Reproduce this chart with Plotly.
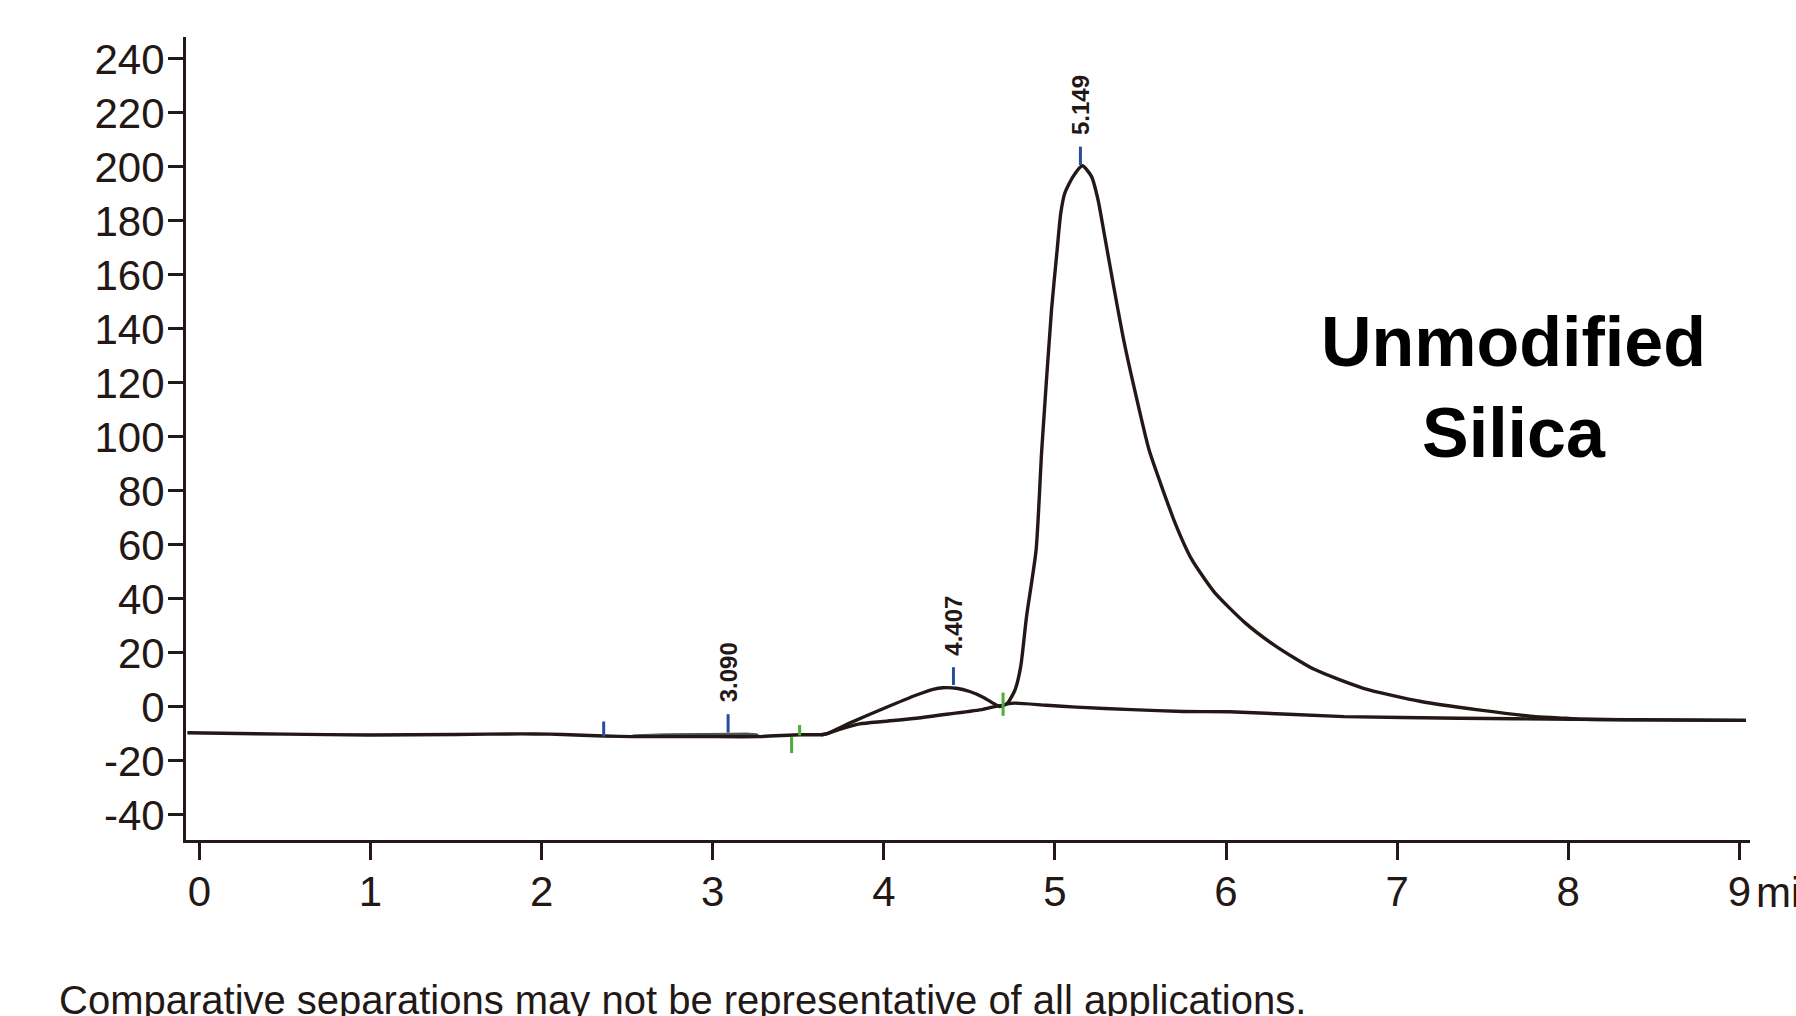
import plotly.graph_objects as go

# ---------------- data ----------------
# detector signal (time in min, response)
SIGNAL_T = [-0.07, 0.50, 0.995, 1.50, 1.884, 2.047, 2.20, 2.363, 2.532, 2.924, 3.275,
            3.508, 3.635, 3.664, 3.80, 3.995, 4.191, 4.288, 4.346, 4.424, 4.502, 4.58,
            4.638, 4.677, 4.697, 4.723, 4.767, 4.80, 4.834, 4.89, 4.923, 4.98, 5.013,
            5.034, 5.058, 5.106, 5.16, 5.214, 5.252, 5.291, 5.34, 5.398, 5.457, 5.55,
            5.617, 5.706, 5.796, 5.93, 6.11, 6.288, 6.512, 6.803, 7.139, 7.474, 7.81,
            7.99, 8.10, 8.5, 9.038]
SIGNAL_Y = [-9.6, -10.1, -10.4, -10.2, -10.0, -10.1, -10.4, -10.8, -11.0, -11.0, -11.0,
            -10.3, -10.3, -10.0, -6.0, -0.7, 4.4, 6.5, 7.1, 6.9, 5.7, 3.6,
            1.4, 0.1, 0.5, 1.4, 6.3, 14.9, 33.4, 58.1, 95.2, 147.0, 169.3,
            182.8, 190.3, 196.4, 200.4, 196.4, 187.8, 174.2, 156.9, 137.1, 119.9, 95.2,
            82.8, 67.5, 55.0, 42.6, 31.2, 22.6, 14.0, 6.9, 2.0, -1.1, -3.6,
            -4.2, -4.6, -4.8, -5.0]

# integration baselines
BASE1_T = [3.635, 3.664, 3.742, 3.859, 3.995, 4.191, 4.385, 4.58, 4.668, 4.697]
BASE1_Y = [-10.3, -10.0, -8.3, -6.3, -5.4, -4.2, -2.6, -0.9, 0.4, 0.5]
BASE2_T = [4.697, 4.723, 4.767, 4.95, 5.125, 5.45, 5.751, 6.02, 6.691, 7.362, 8.033, 8.5, 9.038]
BASE2_Y = [0.5, 1.1, 1.4, 0.6, -0.1, -1.0, -1.7, -1.8, -3.6, -4.2, -4.6, -4.8, -5.0]

# small shaded peak near 3.09 min
SHADE_T = [2.532, 2.70, 2.90, 3.09, 3.20, 3.26, 3.279, 3.279, 2.532]
SHADE_Y = [-10.4, -10.0, -9.9, -9.7, -9.7, -10.0, -11.0, -11.0, -11.0]

# peak labels (retention times)
PEAK_RT = [3.090, 4.407, 5.149]
PEAK_LABELS = ["3.090", "4.407", "5.149"]

# integration event marks
BLUE_MARK_T = [2.363, 3.090, 4.407, 5.149]
BLUE_MARK_LO = [-11.0, -9.5, 8.1, 200.7]
BLUE_MARK_HI = [-5.4, -2.7, 14.7, 207.5]
GREEN_MARK_T = [3.461, 3.508, 4.697]
GREEN_MARK_LO = [-17.1, -10.6, -3.3]
GREEN_MARK_HI = [-11.2, -6.7, 5.3]

X_TICKS = [0, 1, 2, 3, 4, 5, 6, 7, 8, 9]
Y_TICKS = [-40, -20, 0, 20, 40, 60, 80, 100, 120, 140, 160, 180, 200, 220, 240]
Y_TICK_TEXT = ["-40", "-20", "0", "20", "40", "60", "80", "100", "120", "140",
               "160", "180", "200", "220", "240"]

TITLE_LINES = ["Unmodified", "Silica"]
FOOTNOTE = "Comparative separations may not be representative of all applications."
X_UNIT = "min"

# ---------------- styling ----------------
INK = "#231815"
BLUE = "#2b4c9c"
GREEN = "#4bae39"
FONT = "Liberation Sans, Arial, Helvetica, sans-serif"
LW = 3.4


def segments(xs, lo, hi):
    X, Y = [], []
    for x, a, b in zip(xs, lo, hi):
        X += [x, x, None]
        Y += [a, b, None]
    return X, Y


fig = go.Figure()

fig.add_trace(go.Scatter(x=SHADE_T, y=SHADE_Y, mode="lines", fill="toself",
                         fillcolor="#4d4d4d", line=dict(color="#4d4d4d", width=1),
                         hoverinfo="skip"))
fig.add_trace(go.Scatter(x=BASE1_T, y=BASE1_Y, mode="lines",
                         line=dict(color=INK, width=LW, shape="spline", smoothing=0.6)))
fig.add_trace(go.Scatter(x=BASE2_T, y=BASE2_Y, mode="lines",
                         line=dict(color=INK, width=LW, shape="spline", smoothing=0.6)))
fig.add_trace(go.Scatter(x=SIGNAL_T, y=SIGNAL_Y, mode="lines",
                         line=dict(color=INK, width=LW, shape="spline", smoothing=0.6)))

bx, by = segments(BLUE_MARK_T, BLUE_MARK_LO, BLUE_MARK_HI)
fig.add_trace(go.Scatter(x=bx, y=by, mode="lines", line=dict(color=BLUE, width=3)))
gx, gy = segments(GREEN_MARK_T, GREEN_MARK_LO, GREEN_MARK_HI)
fig.add_trace(go.Scatter(x=gx, y=gy, mode="lines", line=dict(color=GREEN, width=3)))

for rt, lab in zip(PEAK_RT, PEAK_LABELS):
    hi = BLUE_MARK_HI[BLUE_MARK_T.index(rt)]
    fig.add_annotation(x=rt, y=hi, xref="x", yref="y", text=f"<b>{lab}</b>",
                       textangle=-90, showarrow=False, xanchor="center", yanchor="bottom",
                       yshift=10, font=dict(family=FONT, size=24, color=INK))

fig.add_annotation(x=7.68, y=135.0, xref="x", yref="y", text=f"<b>{TITLE_LINES[0]}</b>",
                   showarrow=False, xanchor="center", yanchor="middle",
                   font=dict(family=FONT, size=70, color="#000000"))
fig.add_annotation(x=7.68, y=101.5, xref="x", yref="y", text=f"<b>{TITLE_LINES[1]}</b>",
                   showarrow=False, xanchor="center", yanchor="middle",
                   font=dict(family=FONT, size=70, color="#000000"))

fig.add_annotation(x=1.0026, y=-0.0648, xref="paper", yref="paper", text=X_UNIT,
                   showarrow=False, xanchor="left", yanchor="middle",
                   font=dict(family=FONT, size=42, color=INK))

fig.add_annotation(x=-0.0825, y=-0.199, xref="paper", yref="paper", text=FOOTNOTE,
                   showarrow=False, xanchor="left", yanchor="middle",
                   font=dict(family=FONT, size=40, color=INK))

fig.update_layout(
    width=1796, height=1016,
    margin=dict(l=186, r=46, t=37, b=176),
    paper_bgcolor="white", plot_bgcolor="white",
    showlegend=False,
    font=dict(family=FONT, color=INK),
)
fig.update_xaxes(range=[-0.078, 9.062], tickvals=X_TICKS, ticks="outside", ticklen=17,
                 tickwidth=3, tickcolor=INK, showline=True, linewidth=3, linecolor=INK,
                 showgrid=False, zeroline=False, ticklabelstandoff=-4,
                 tickfont=dict(family=FONT, size=42, color=INK))
fig.update_yaxes(range=[-49.3, 248.1], tickvals=Y_TICKS, ticktext=Y_TICK_TEXT,
                 ticks="outside", ticklen=15, tickwidth=3, tickcolor=INK, showline=True,
                 linewidth=3, linecolor=INK, showgrid=False, zeroline=False,
                 ticklabelstandoff=-5, tickfont=dict(family=FONT, size=42, color=INK))

fig.write_html("out.html")
